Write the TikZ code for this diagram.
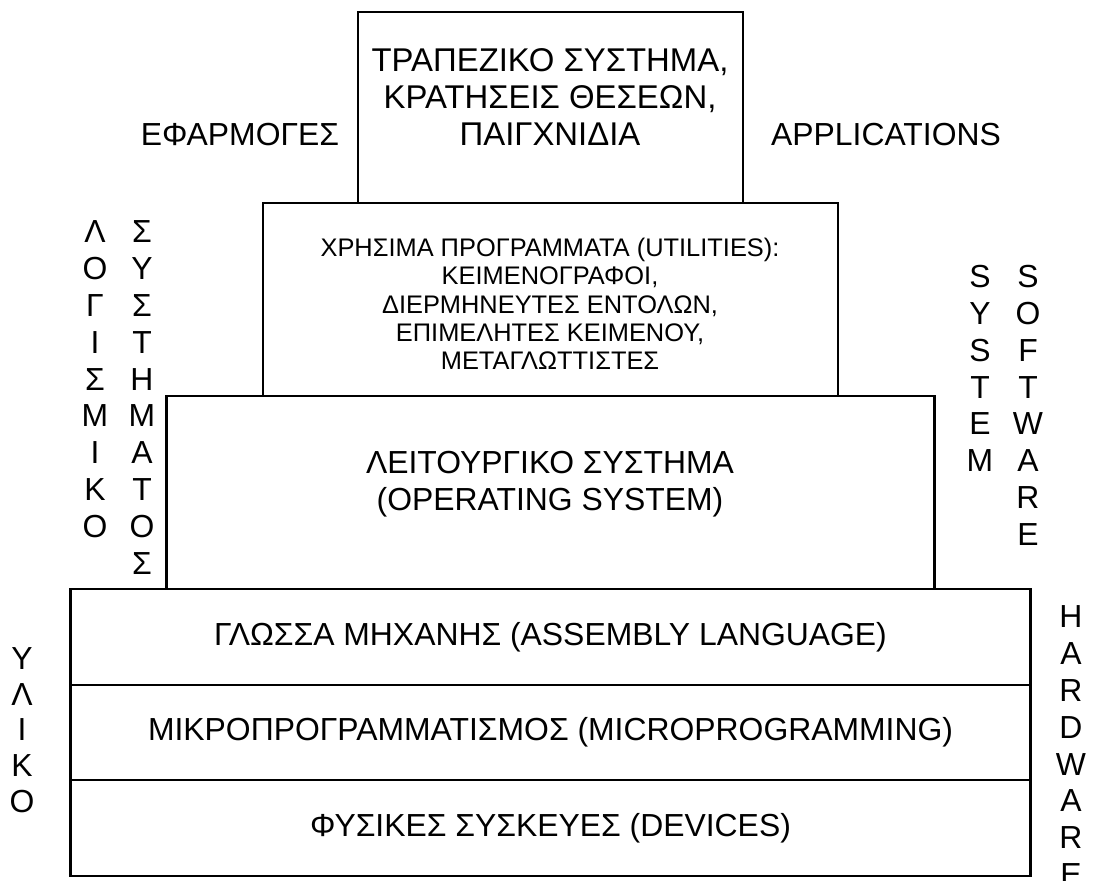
\documentclass[tikz,border=0pt]{standalone}
\usepackage{fontspec}
\setmainfont{Liberation Sans}
\usetikzlibrary{positioning}

\tikzset{
  layer/.style={draw, line width=2.2bp, inner sep=0pt, outer sep=0pt},
  bigtext/.style={font=\fontsize{32}{37.5}\selectfont, align=center, inner sep=0pt},
  smalltext/.style={font=\fontsize{25.5}{28.5}\selectfont, align=center, inner sep=0pt},
  column/.style={font=\fontsize{32}{37}\selectfont, align=center, inner sep=0pt, anchor=north},
}

\begin{document}
\begin{tikzpicture}[x=1bp, y=-1bp, node distance=0pt]
  \useasboundingbox (0,0) rectangle (1095,881);
  % layers, top to bottom
  \node[layer, minimum width=385bp, minimum height=191bp] (apps) at (550.5,107.5) {};
  \node[layer, minimum width=575bp, minimum height=193bp, below=of apps] (utils) {};
  \node[layer, minimum width=768bp, minimum height=193bp, below=of utils] (os) {};
  \node[layer, bigtext, minimum width=960bp, minimum height=96bp, below=of os] (asm)
    {ΓΛΩΣΣΑ ΜΗΧΑΝΗΣ (ASSEMBLY LANGUAGE)};
  \node[layer, bigtext, minimum width=960bp, minimum height=95bp, below=of asm] (micro)
    {ΜΙΚΡΟΠΡΟΓΡΑΜΜΑΤΙΣΜΟΣ (MICROPROGRAMMING)};
  \node[layer, bigtext, minimum width=960bp, minimum height=96bp, below=of micro] (dev)
    {ΦΥΣΙΚΕΣ ΣΥΣΚΕΥΕΣ (DEVICES)};

  % texts of the upper layers
  \node[bigtext, font=\fontsize{33}{37.5}\selectfont] (appstext) at (550,97)
    {ΤΡΑΠΕΖΙΚΟ ΣΥΣΤΗΜΑ,\\ ΚΡΑΤΗΣΕΙΣ ΘΕΣΕΩΝ,\\ ΠΑΙΓΧΝΙΔΙΑ};
  \node[smalltext] (utilstext) at (550,304)
    {ΧΡΗΣΙΜΑ ΠΡΟΓΡΑΜΜΑΤΑ (UTILITIES):\\ ΚΕΙΜΕΝΟΓΡΑΦΟΙ,\\ ΔΙΕΡΜΗΝΕΥΤΕΣ ΕΝΤΟΛΩΝ,\\
     ΕΠΙΜΕΛΗΤΕΣ ΚΕΙΜΕΝΟΥ,\\ ΜΕΤΑΓΛΩΤΤΙΣΤΕΣ};
  \node[bigtext] (ostext) at (550,484)
    {ΛΕΙΤΟΥΡΓΙΚΟ ΣΥΣΤΗΜΑ\\ (OPERATING SYSTEM)};

  % side labels
  \node[bigtext] (appsgr) at (240,135) {ΕΦΑΡΜΟΓΕΣ};
  \node[bigtext] (appsen) at (886,135) {APPLICATIONS};
  \node[column] (swgr1) at (95,220.5) {Λ\\Ο\\Γ\\Ι\\Σ\\Μ\\Ι\\Κ\\Ο};
  \node[column] (swgr2) at (142,220.5) {Σ\\Υ\\Σ\\Τ\\Η\\Μ\\Α\\Τ\\Ο\\Σ};
  \node[column] (swen1) at (980,265) {S\\Y\\S\\T\\E\\M};
  \node[column] (swen2) at (1028,265) {S\\O\\F\\T\\W\\A\\R\\E};
  \node[column, font=\fontsize{32}{36}\selectfont] (hwgr) at (22,647) {Υ\\Λ\\Ι\\Κ\\Ο};
  \node[column] (hwen) at (1071,605.5) {H\\A\\R\\D\\W\\A\\R\\E};
\end{tikzpicture}
\end{document}
